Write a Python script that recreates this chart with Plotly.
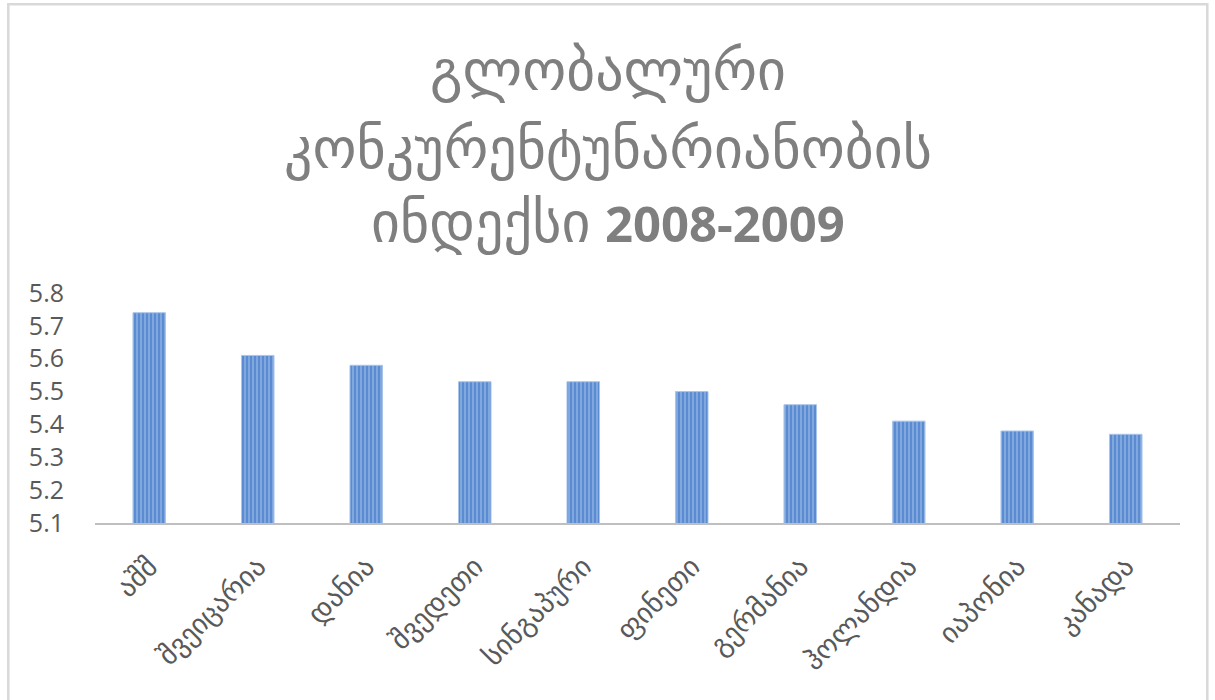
import plotly.graph_objects as go

countries = ["აშშ", "შვეიცარია", "დანია", "შვედეთი", "სინგაპური",
             "ფინეთი", "გერმანია", "ჰოლანდია", "იაპონია", "კანადა"]
index_values = [5.74, 5.61, 5.58, 5.53, 5.53, 5.50, 5.46, 5.41, 5.38, 5.37]
y_ticks = [5.1, 5.2, 5.3, 5.4, 5.5, 5.6, 5.7, 5.8]
title_lines = ["გლობალური", "კონკურენტუნარიანობის",
               "ინდექსი <b><span style='font-size:49px'>2008-2009</span></b>"]
title_centers_px = [68, 146, 220]

W, H = 1215, 700
L, R, T, B = 95, 35, 293, 177
pw, ph = W - L - R, H - T - B

def px_x(x):
    return (x - L) / pw

def px_y(y):
    return (H - B - y) / ph

fig = go.Figure(go.Bar(
    x=countries,
    y=index_values,
    marker=dict(
        color="#5b8bd1",
        line=dict(color="#a9c5ea", width=1),
        pattern=dict(shape="|", fgcolor="#aecbee", bgcolor="#5b8bd1",
                     size=4, solidity=0.45, fillmode="overlay"),
    ),
    hoverinfo="x+y",
))

annotations = [
    dict(text=t, xref="paper", yref="paper", x=px_x(W / 2), y=px_y(c),
         xanchor="center", yanchor="middle", showarrow=False,
         font=dict(family="Open Sans, DejaVu Sans", size=56, color="#7f7f7f"))
    for t, c in zip(title_lines, title_centers_px)
]

fig.update_layout(
    width=W, height=H,
    margin=dict(l=L, r=R, t=T, b=B, pad=0),
    paper_bgcolor="white",
    plot_bgcolor="white",
    bargap=0.7,
    showlegend=False,
    annotations=annotations,
    xaxis=dict(
        showline=True, linecolor="#bfbfbf", linewidth=2,
        ticks="", tickangle=-45, ticklabelstandoff=14,
        tickfont=dict(family="DejaVu Sans", size=28, color="#595959"),
        showgrid=False,
    ),
    yaxis=dict(
        range=[5.1, 5.8],
        tickvals=y_ticks,
        ticktext=[f"{v:.1f}" for v in y_ticks],
        showgrid=False, zeroline=False, showline=False,
        ticks="", ticklabelstandoff=30,
        tickfont=dict(family="Open Sans, Liberation Sans", size=25, color="#595959"),
    ),
    shapes=[dict(
        type="rect", xref="paper", yref="paper",
        x0=px_x(8.3), x1=px_x(1207.3), y0=px_y(720), y1=px_y(4.3),
        line=dict(color="#d9d9d9", width=2.5),
        fillcolor="rgba(0,0,0,0)", layer="below",
    )],
)

fig.write_html("out.html", config={"displayModeBar": False},
               post_script="document.body.style.margin='0';document.body.style.overflow='hidden';")
